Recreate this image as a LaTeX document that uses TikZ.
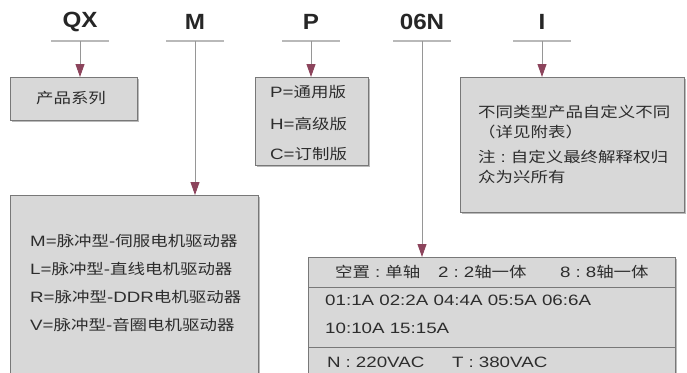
\documentclass[tikz,border=0pt]{standalone}
\usepackage{fontspec}
\setmainfont[FakeStretch=1.25]{Liberation Sans}
\newfontfamily\cjk[FakeStretch=1.2,Scale=0.97]{Noto Sans CJK SC}
\newfontfamily\lblfont[FakeStretch=1.1]{Liberation Sans}
\usetikzlibrary{arrows.meta,shadows}
\definecolor{boxfill}{RGB}{216,216,216}
\definecolor{boxline}{RGB}{120,120,120}
\definecolor{tipcol}{RGB}{140,68,92}
\definecolor{txt}{RGB}{45,45,45}
\definecolor{stem}{RGB}{150,150,150}
\newcommand\zhs[1]{{\cjk #1}}
\newcommand\csep{\hspace{5pt}:\hspace{5pt}}
\begin{document}
\begin{tikzpicture}[x=1pt,y=-1pt,
  box/.style={draw=boxline, fill=boxfill, line width=0.8pt, inner sep=0pt, anchor=north west,
    drop shadow={shadow xshift=1.2pt, shadow yshift=-1.2pt, fill=black!45, opacity=0.6}},
  lbl/.style={font=\lblfont\bfseries\fontsize{22}{24}\selectfont, text=black!85, inner sep=0pt},
  txtn/.style={font=\fontsize{15}{18}\selectfont, text=txt, inner sep=0pt, anchor=west},
  uline/.style={draw=gray!55, line width=1.2pt},
  pointer/.style={draw=stem, line width=0.9pt, -{Triangle[width=9pt,length=13pt,color=tipcol]}},
]
\useasboundingbox (0,0) rectangle (687,372);
\clip (0,0) rectangle (687,372);

% boxes
\node[box, minimum width=127pt, minimum height=43pt] (qxbox) at (10,77) {};
\node[box, minimum width=113pt, minimum height=88pt] (pbox) at (255,77) {};
\node[box, minimum width=224pt, minimum height=135pt] (ibox) at (460,77) {};
\node[box, minimum width=248pt, minimum height=190pt] (mbox) at (10,195) {};
\node[box, minimum width=367pt, minimum height=130pt] (nbox) at (308,257) {};
\draw[boxline, line width=0.8pt] ([yshift=-30pt]nbox.north west) -- ([yshift=-30pt]nbox.north east);
\draw[boxline, line width=0.8pt] ([yshift=-90pt]nbox.north west) -- ([yshift=-90pt]nbox.north east);

% labels
\node[lbl] (lqx) at (80,22) {QX};
\node[lbl] (lm) at (195,22) {M};
\node[lbl] (lp) at (311,22) {P};
\node[lbl] (ln) at (422,22) {06N};
\node[lbl] (li) at (542,22) {I};

\coordinate (uqx) at (80,41);
\coordinate (um) at (195,41);
\coordinate (up) at (311,41);
\coordinate (un) at (422,41);
\coordinate (ui) at (542,41);
\foreach \c in {uqx,um,up,un,ui}{
  \draw[uline] ([xshift=-29pt]\c) -- ([xshift=29pt]\c);
}
\draw[pointer] (uqx) -- (uqx |- qxbox.north);
\draw[pointer] (um) -- (um |- mbox.north);
\draw[pointer] (up) -- (up |- pbox.north);
\draw[pointer] (un) -- (un |- nbox.north);
\draw[pointer] (ui) -- (ui |- ibox.north);

% texts
\node[txtn, anchor=center] (tqx) at (71,98) {\zhs{产品系列}};

\node[txtn] (tp1) at (270,92) {P=\zhs{通用版}};
\node[txtn] (tp2) at (270,124) {H=\zhs{高级版}};
\node[txtn] (tp3) at (270,154) {C=\zhs{订制版}};

\node[txtn] (ti1) at (478,112) {\zhs{不同类型产品自定义不同}};
\node[txtn] (ti2) at (478,132) {\zhs{（详见附表）}};
\node[txtn] (ti3) at (478,157) {\zhs{注}\csep\zhs{自定义最终解释权归}};
\node[txtn] (ti4) at (478,177) {\zhs{众为兴所有}};

\node[txtn] (tm1) at (30,241) {M=\zhs{脉冲型}-\zhs{伺服电机驱动器}};
\node[txtn] (tm2) at (30,269) {L=\zhs{脉冲型}-\zhs{直线电机驱动器}};
\node[txtn] (tm3) at (30,297) {R=\zhs{脉冲型}-DDR\zhs{电机驱动器}};
\node[txtn] (tm4) at (30,325) {V=\zhs{脉冲型}-\zhs{音圈电机驱动器}};

\node[txtn] (tn1) at (335,272) {\zhs{空置}\csep\zhs{单轴}};
\node[txtn] (tn2) at (438,272) {2\csep2\zhs{轴一体}};
\node[txtn] (tn3) at (560,272) {8\csep8\zhs{轴一体}};
\node[txtn] (tn4) at (325,300) {01:1A 02:2A 04:4A 05:5A 06:6A};
\node[txtn] (tn5) at (325,328) {10:10A 15:15A};
\node[txtn] (tn6) at (327,362) {N\csep220VAC};
\node[txtn] (tn7) at (452,362) {T\csep380VAC};
\end{tikzpicture}
\end{document}
